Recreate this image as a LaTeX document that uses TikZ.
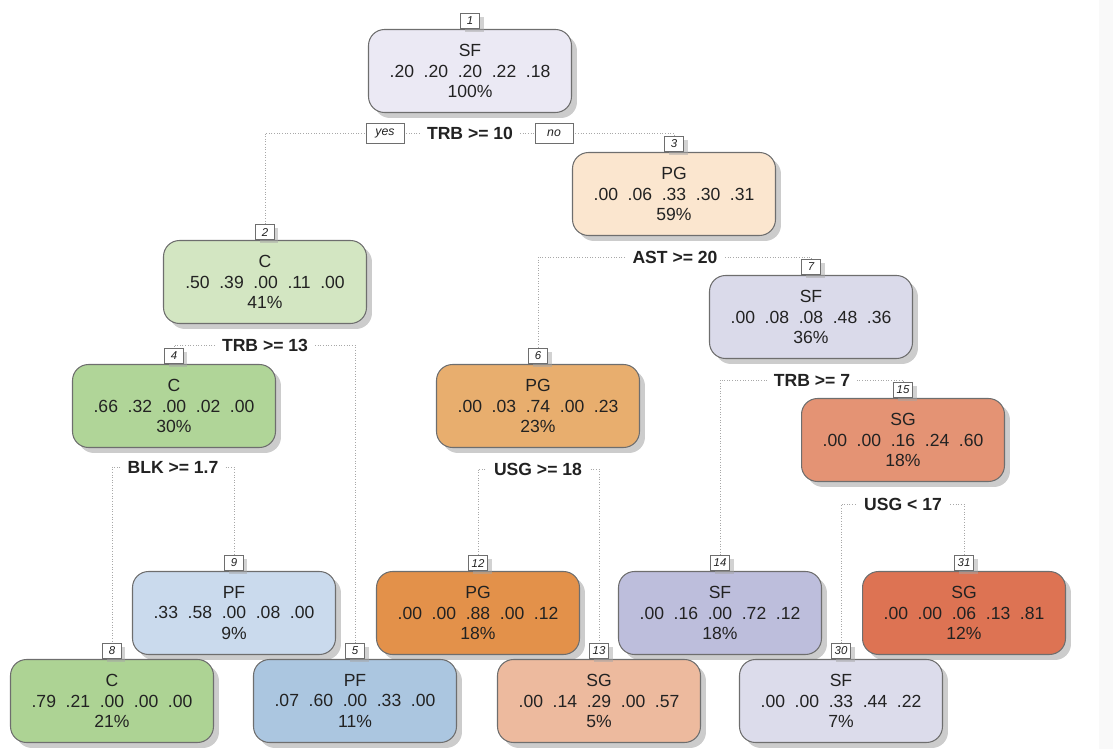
\documentclass[tikz,border=0pt]{standalone}
\usepackage{fontspec}
\setmainfont{Liberation Sans}
\usetikzlibrary{shadows,backgrounds}
\definecolor{bord}{HTML}{6E6E6E}
\definecolor{txt}{HTML}{222222}
\definecolor{conn}{HTML}{A8A8A8}
\definecolor{cA}{HTML}{EBE9F4}
\definecolor{cB}{HTML}{FBE6CF}
\definecolor{cC}{HTML}{D3E6C2}
\definecolor{cD}{HTML}{B0D598}
\definecolor{cE}{HTML}{ADD394}
\definecolor{cF}{HTML}{CADAED}
\definecolor{cG}{HTML}{ABC6E0}
\definecolor{cH}{HTML}{E8AE6E}
\definecolor{cI}{HTML}{E3914A}
\definecolor{cJ}{HTML}{EDBA9E}
\definecolor{cK}{HTML}{DADAEA}
\definecolor{cL}{HTML}{BDBEDC}
\definecolor{cM}{HTML}{DCDCEB}
\definecolor{cN}{HTML}{E49374}
\definecolor{cO}{HTML}{DD7353}
\newcommand{\gp}{\hspace{5.5pt}}
\newcommand{\vals}[5]{#1\gp#2\gp#3\gp#4\gp#5}
\tikzset{
  treebox/.style={draw=bord, line width=0.6pt, rounded corners=0.32cm,
    minimum width=4.06cm, minimum height=1.66cm, align=center, text=txt,
    font=\fontsize{10}{11.6}\selectfont, inner sep=0pt,
    drop shadow={shadow xshift=0.11cm, shadow yshift=-0.11cm, fill=black!40, opacity=0.5}},
  numlab/.style={draw=bord, fill=white, line width=0.5pt, anchor=south,
    font=\itshape\fontsize{6.5}{7}\selectfont, text=txt, minimum height=0.3cm,
    minimum width=0.38cm, inner xsep=1.5pt, inner ysep=0pt,
    drop shadow={shadow xshift=0.08cm, shadow yshift=-0.06cm, fill=black!35, opacity=0.5}},
  splitlab/.style={fill=white, font=\bfseries\fontsize{10}{12}\selectfont, text=txt,
    inner xsep=4pt, inner ysep=1pt},
  yn/.style={draw=bord, fill=white, line width=0.5pt, font=\itshape\fontsize{7}{8}\selectfont,
    text=txt, minimum width=0.76cm, minimum height=0.4cm, inner sep=0pt},
  cn/.style={draw=conn, line width=0.5pt, densely dotted}
}
\begin{document}
\begin{tikzpicture}[x=0.02cm, y=-0.02cm]
\useasboundingbox (0,0) rectangle (1113,749);
\fill[gray!5] (1099,0) rectangle (1113,749);

% boxes
\node[treebox, fill=cA] (b1) at (470,71) {SF\\\vals{.20}{.20}{.20}{.22}{.18}\\100\%};
\node[treebox, fill=cB] (b3) at (674,194) {PG\\\vals{.00}{.06}{.33}{.30}{.31}\\59\%};
\node[treebox, fill=cC] (b2) at (265,282) {C\\\vals{.50}{.39}{.00}{.11}{.00}\\41\%};
\node[treebox, fill=cK] (b7) at (811,317) {SF\\\vals{.00}{.08}{.08}{.48}{.36}\\36\%};
\node[treebox, fill=cD] (b4) at (174,406) {C\\\vals{.66}{.32}{.00}{.02}{.00}\\30\%};
\node[treebox, fill=cH] (b6) at (538,406) {PG\\\vals{.00}{.03}{.74}{.00}{.23}\\23\%};
\node[treebox, fill=cN] (b15) at (903,440) {SG\\\vals{.00}{.00}{.16}{.24}{.60}\\18\%};
\node[treebox, fill=cF] (b9) at (234,613) {PF\\\vals{.33}{.58}{.00}{.08}{.00}\\9\%};
\node[treebox, fill=cI] (b12) at (478,613) {PG\\\vals{.00}{.00}{.88}{.00}{.12}\\18\%};
\node[treebox, fill=cL] (b14) at (720,613) {SF\\\vals{.00}{.16}{.00}{.72}{.12}\\18\%};
\node[treebox, fill=cO] (b31) at (964,613) {SG\\\vals{.00}{.00}{.06}{.13}{.81}\\12\%};
\node[treebox, fill=cE] (b8) at (112,701) {C\\\vals{.79}{.21}{.00}{.00}{.00}\\21\%};
\node[treebox, fill=cG] (b5) at (355,701) {PF\\\vals{.07}{.60}{.00}{.33}{.00}\\11\%};
\node[treebox, fill=cJ] (b13) at (599,701) {SG\\\vals{.00}{.14}{.29}{.00}{.57}\\5\%};
\node[treebox, fill=cM] (b30) at (841,701) {SF\\\vals{.00}{.00}{.33}{.44}{.22}\\7\%};

% number labels
\foreach \k in {1,2,3,4,5,6,7,8,9,12,13,14,15,30,31}
  \node[numlab] (n\k) at (b\k.north) {\k};

% split labels
\node[splitlab] (s1) at (470,133) {TRB >= 10};
\node[splitlab] (s3) at (675,257) {AST >= 20};
\node[splitlab] (s2) at (265,345) {TRB >= 13};
\node[splitlab] (s7) at (812,380) {TRB >= 7};
\node[splitlab] (s4) at (173,467) {BLK >= 1.7};
\node[splitlab] (s6) at (538,469) {USG >= 18};
\node[splitlab] (s15) at (903,504) {USG < 17};
\node[yn] (yes) at (385,133) {yes};
\node[yn] (no) at (554,133) {no};

% connectors
\begin{pgfonlayer}{background}
\draw[cn] (s1.center) -| (n2.north);
\draw[cn] (s1.center) -| (n3.north);
\draw[cn] (s2.center) -| (n4.north);
\draw[cn] (s2.center) -| (n5.north);
\draw[cn] (s3.center) -| (n6.north);
\draw[cn] (s3.center) -| (n7.north);
\draw[cn] (s4.center) -| (n8.north);
\draw[cn] (s4.center) -| (n9.north);
\draw[cn] (s6.center) -| (n12.north);
\draw[cn] (s6.center) -| (n13.north);
\draw[cn] (s7.center) -| (n14.north);
\draw[cn] (s7.center) -| (n15.north);
\draw[cn] (s15.center) -| (n30.north);
\draw[cn] (s15.center) -| (n31.north);
\end{pgfonlayer}
\end{tikzpicture}
\end{document}
